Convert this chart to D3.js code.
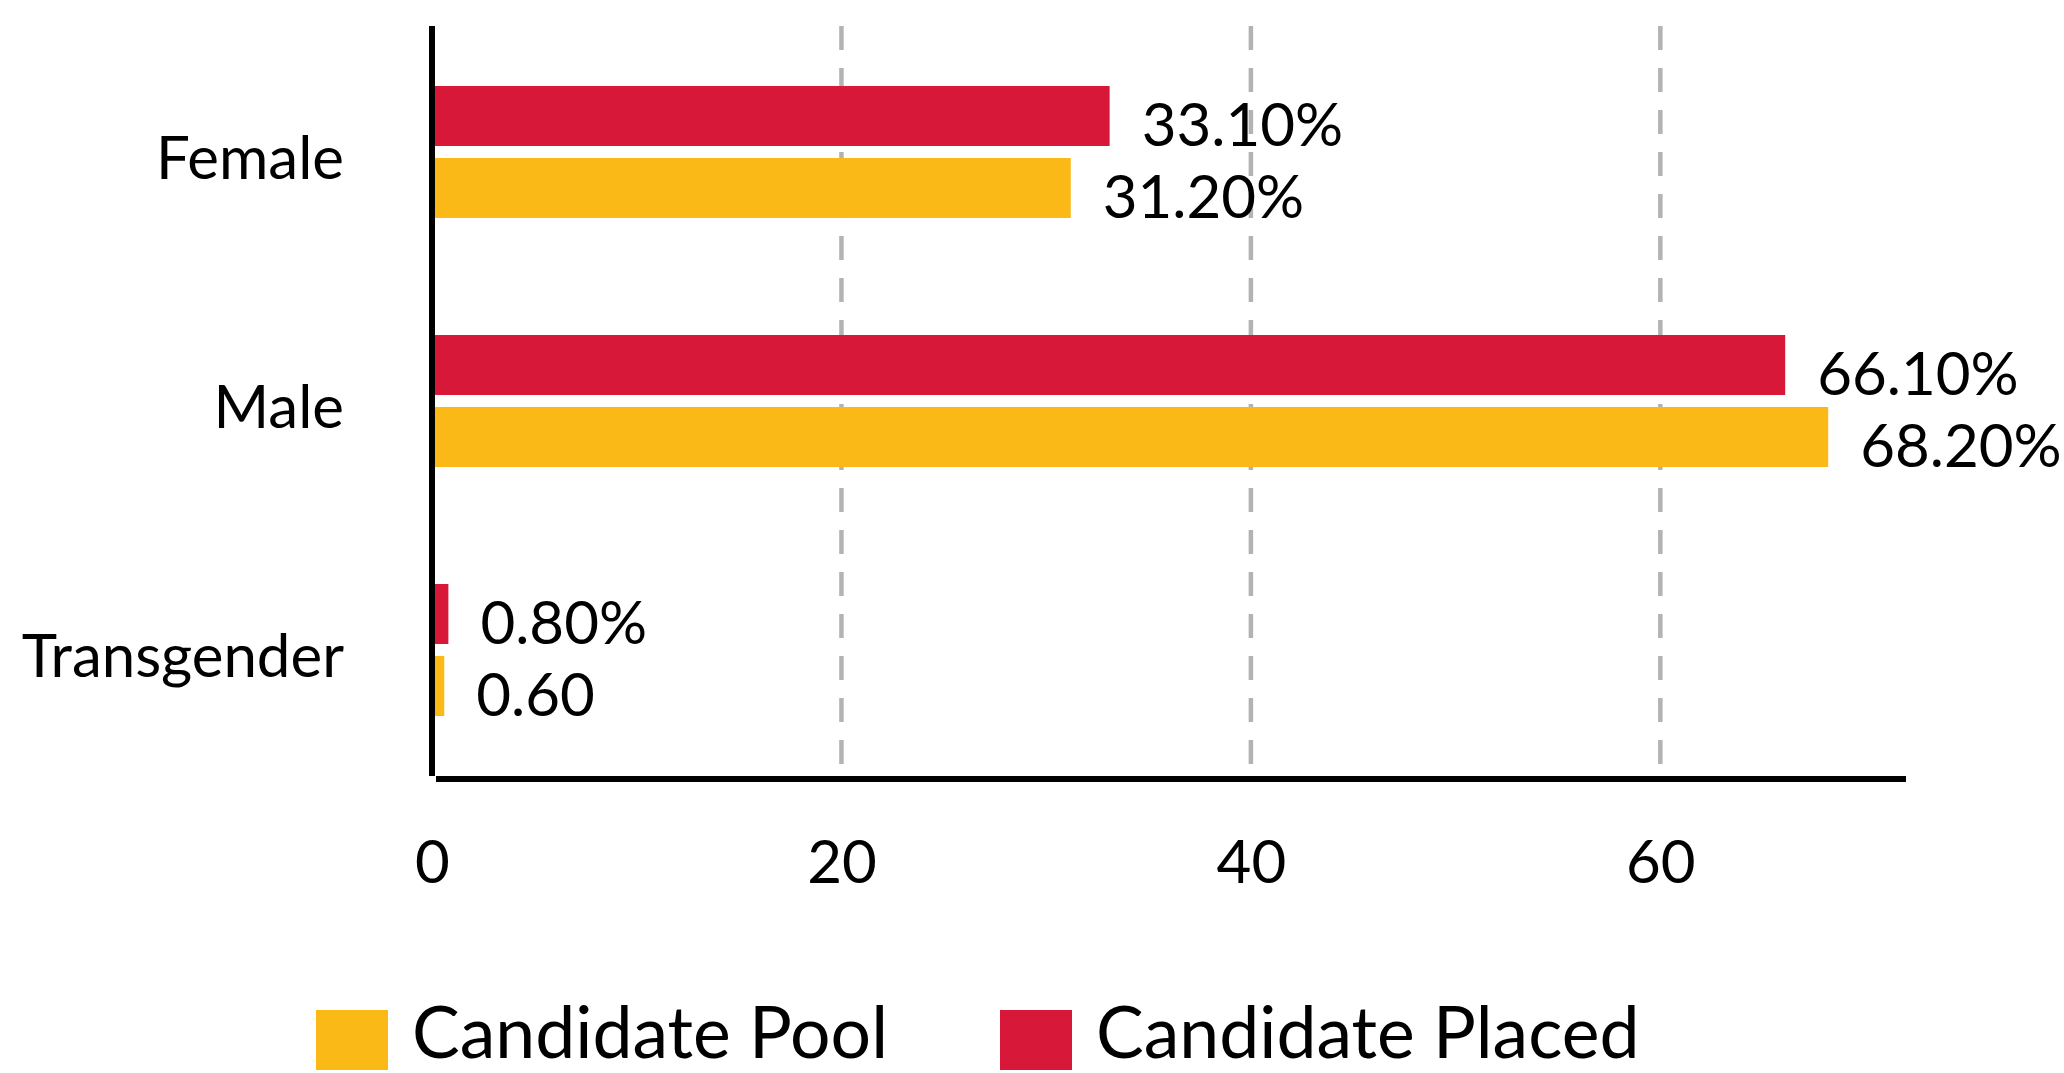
<!DOCTYPE html>
<html>
<head>
<meta charset="utf-8">
<script src="https://cdn.jsdelivr.net/npm/d3@7"></script>
<style>
  body { margin: 0; background: #fff; }
  svg text { font-family: Lato, "Open Sans", sans-serif; fill: #000; }
</style>
</head>
<body>
<div id="chart"></div>
<script>
// Données
var categories = ["Female", "Male", "Transgender"];
var seriesNames = ["Candidate Placed", "Candidate Pool"];
var placedValues = [33.1, 66.1, 0.8];
var poolValues = [31.2, 68.2, 0.6];
var placedLabels = ["33.10%", "66.10%", "0.80%"];
var poolLabels = ["31.20%", "68.20%", "0.60"];
var xTicks = [0, 20, 40, 60];
var legendOrder = ["Candidate Pool", "Candidate Placed"];

var colors = {"Candidate Placed": "#d81838", "Candidate Pool": "#fbb917"};

var width = 2064, height = 1073;

var svg = d3.select("#chart")
  .append("svg")
    .attr("width", width)
    .attr("height", height);

// Echelles
var x = d3.scaleLinear()
  .domain([0, 72])
  .range([432, 1906]);

var y0 = d3.scaleBand()
  .domain(categories)
  .range([26, 776])
  .paddingInner(0.47)
  .paddingOuter(0.241);

var y1 = d3.scaleBand()
  .domain(seriesNames)
  .range([0, y0.bandwidth()])
  .paddingInner(0.167);

// Grille pointillée
svg.append("g")
  .selectAll("line")
  .data(xTicks.filter(function(d) { return d > 0; }))
  .enter()
  .append("line")
    .attr("x1", function(d) { return x(d); })
    .attr("x2", function(d) { return x(d); })
    .attr("y1", 26)
    .attr("y2", 776)
    .attr("stroke", "#b3b3b3")
    .attr("stroke-width", 4.5)
    .attr("stroke-dasharray", "24,18");

// Barres
var rows = categories.map(function(c, i) {
  return [
    {cat: c, key: "Candidate Placed", value: placedValues[i], label: placedLabels[i]},
    {cat: c, key: "Candidate Pool", value: poolValues[i], label: poolLabels[i]}
  ];
});
var flat = [].concat.apply([], rows);

svg.append("g")
  .selectAll("rect")
  .data(flat)
  .enter()
  .append("rect")
    .attr("x", x(0))
    .attr("y", function(d) { return y0(d.cat) + y1(d.key); })
    .attr("width", function(d) { return x(d.value) - x(0); })
    .attr("height", y1.bandwidth())
    .attr("fill", function(d) { return colors[d.key]; });

// Etiquettes de valeurs
svg.append("g")
  .selectAll("text")
  .data(flat)
  .enter()
  .append("text")
    .attr("x", function(d) { return x(d.value) + 32; })
    .attr("y", function(d) { return y0(d.cat) + y1(d.key) + y1.bandwidth(); })
    .style("font-size", "60px")
    .text(function(d) { return d.label; });

// Axe Y
var yAxis = svg.append("g")
  .attr("transform", "translate(" + x(0) + ",0)")
  .call(d3.axisLeft(y0).tickSize(0).tickPadding(88));
yAxis.select(".domain")
  .attr("d", "M0,26V776")
  .attr("stroke", "#000")
  .attr("stroke-width", 6);
yAxis.selectAll("text")
  .attr("dy", "0.45em")
  .style("font-size", "60px")
  .style("font-family", "Lato");

// Axe X
var xAxis = svg.append("g")
  .attr("transform", "translate(0,779)")
  .call(d3.axisBottom(x).tickValues(xTicks).tickSize(0).tickPadding(61));
xAxis.select(".domain")
  .attr("d", "M" + (x(0) + 4) + ",0H" + x(72))
  .attr("stroke", "#000")
  .attr("stroke-width", 6);
xAxis.selectAll("text")
  .style("font-size", "60px")
  .style("font-family", "Lato");

// Légende
var legendX = [316, 1000];
var legend = svg.append("g")
  .selectAll("g")
  .data(legendOrder)
  .enter()
  .append("g")
    .attr("transform", function(d, i) { return "translate(" + legendX[i] + ",1010)"; });

legend.append("rect")
  .attr("width", 72)
  .attr("height", 60)
  .attr("fill", function(d) { return colors[d]; });

legend.append("text")
  .attr("x", 96)
  .attr("y", 48)
  .style("font-size", "71.5px")
  .text(function(d) { return d; });
</script>
</body>
</html>
